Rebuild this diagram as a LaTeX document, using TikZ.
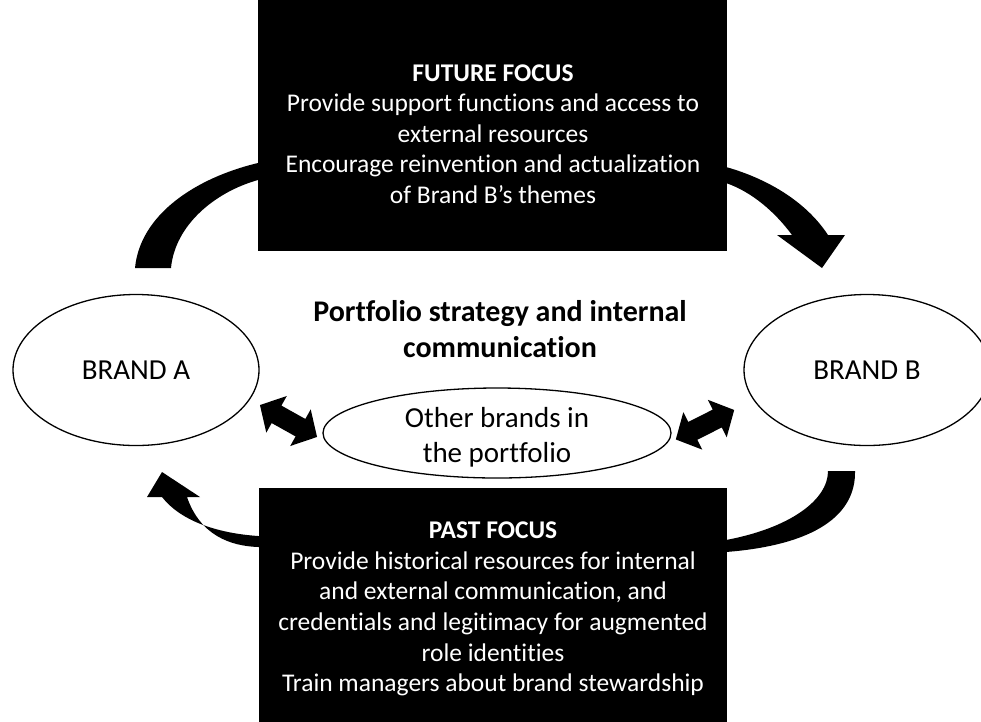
\documentclass[tikz,border=0pt]{standalone}
\usepackage{fontspec}
\setmainfont{Carlito}[Ligatures={NoCommon}, RawFeature={-liga;-clig}]
\usetikzlibrary{shapes.geometric}
\tikzset{
  brandell/.style={ellipse, draw=black, line width=1.3pt, fill=white, inner sep=0pt,
     font=\fontsize{29}{35}\selectfont, align=center},
  ellabel/.style={align=center, font=\fontsize{29}{35}\selectfont},
  focusbox/.style={fill=black, draw=black, inner sep=0pt},
  boxtext/.style={text=white, align=center, font=\fontsize{25.5}{30.6}\selectfont},
  bigarrow/.style={fill=black, draw=none},
}
\begin{document}
\begin{tikzpicture}[x=1pt,y=-1pt]
\useasboundingbox (0,0) rectangle (981,721);
\clip (0,0) rectangle (981,721);

% top curved arrow (Brand A -> Brand B)
\fill[bigarrow] (135,268) .. controls (140,215) and (195,178) .. (258,163)
  -- (726,167) .. controls (765,178) and (805,200) .. (828,235)
  -- (845,235) -- (822,268) -- (777,235) -- (792,235)
  .. controls (775,212) and (752,192) .. (726,183)
  -- (258,180) .. controls (215,192) and (175,225) .. (171,268) -- cycle;

% bottom curved arrow (Brand B -> Brand A)
\fill[bigarrow] (855,471) .. controls (856,515) and (815,545) .. (726,552)
  -- (258,547) .. controls (230,546) and (200,535) .. (187,497)
  -- (200,497) -- (162,472) -- (147,497) -- (162,497)
  .. controls (180,520) and (215,533) .. (258,536)
  -- (726,540) .. controls (790,528) and (828,500) .. (828,471) -- cycle;

% boxes
\node[focusbox, minimum width=468, minimum height=252] (future) at (492,124) {};
\node[focusbox, minimum width=467, minimum height=240] (past) at (492.5,608) {};

\node[boxtext] (futuretext) at (493,134) {\textbf{FUTURE FOCUS}\\
Provide support functions and access to\\
external resources\\
Encourage reinvention and actualization\\
of Brand B’s themes};

\node[boxtext] (pasttext) at (493,609) {\textbf{PAST FOCUS}\\
Provide historical resources for internal\\
and external communication, and\\
credentials and legitimacy for augmented\\
role identities\\
Train managers about brand stewardship};

% ellipses
\node[brandell, minimum width=246, minimum height=151] (brandA) at (136,370) {BRAND A};
\node[brandell, minimum width=246, minimum height=151] (brandB) at (867,370) {BRAND B};
\node[brandell, minimum width=348, minimum height=90] (others) at (497,433) {};
\node[ellabel] (otherslabel) at (497,437) {Other brands in\\the portfolio};

% middle title
\node[align=center, font=\bfseries\fontsize{30}{36}\selectfont] (title) at (500,329)
  {Portfolio strategy and internal\\communication};

% double arrows
\begin{scope}[shift={(288.5,421)}, rotate=-29.2]
  \fill[bigarrow] (-32.7,0) -- (-13.7,21) -- (-13.7,10) -- (13.7,10) -- (13.7,21)
    -- (32.7,0) -- (13.7,-21) -- (13.7,-10) -- (-13.7,-10) -- (-13.7,-21) -- cycle;
\end{scope}
\begin{scope}[shift={(705,424.7)}, rotate=26.8]
  \fill[bigarrow] (-32.7,0) -- (-13.7,21) -- (-13.7,10) -- (13.7,10) -- (13.7,21)
    -- (32.7,0) -- (13.7,-21) -- (13.7,-10) -- (-13.7,-10) -- (-13.7,-21) -- cycle;
\end{scope}
\end{tikzpicture}
\end{document}
